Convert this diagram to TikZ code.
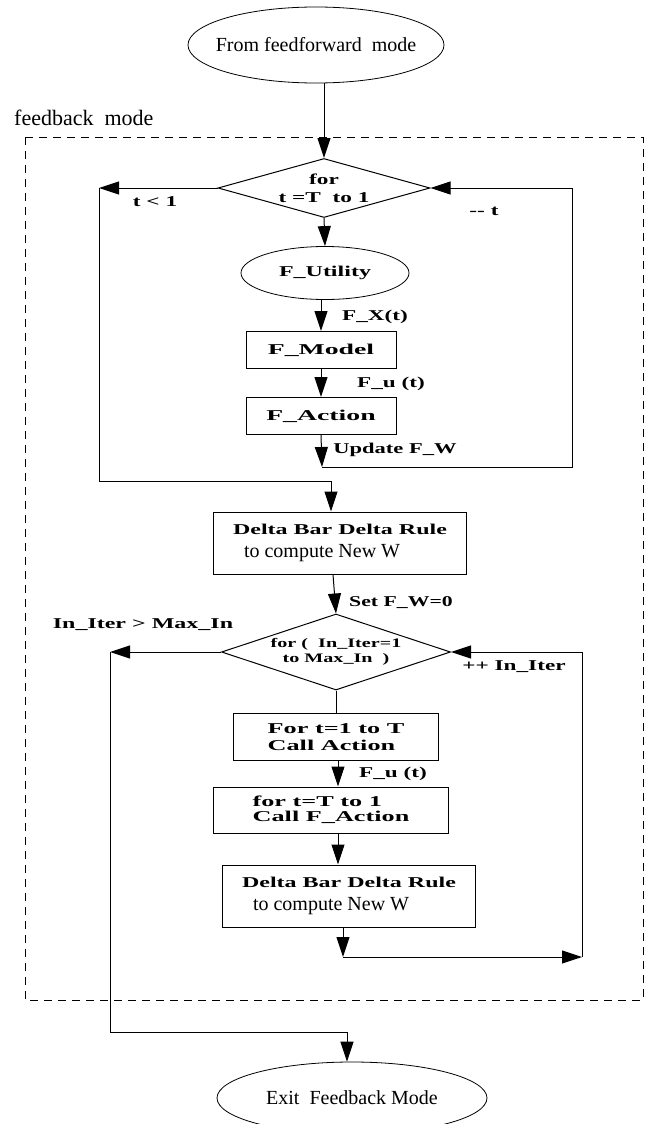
\documentclass[tikz,border=0pt]{standalone}
\usepackage{fontspec}
\usepackage{graphicx}
\setmainfont{Liberation Serif}
\usetikzlibrary{arrows.meta,shapes.geometric}
% wide bold face of the labels
\newcommand{\bw}[2][1.55]{\scalebox{#1}[1]{\bfseries #2}}
\newcommand{\lblsize}{\fontsize{15}{18}\selectfont}
\newcommand{\txtfont}{\fontsize{20}{23}\selectfont}

\begin{document}
\begin{tikzpicture}[x=1pt,y=-1pt,
  flow/.style={line width=1pt,-{Triangle[length=20pt,width=13pt]}},
  wire/.style={line width=1pt},
  term/.style={draw,ellipse,line width=0.8pt,inner sep=0pt},
  decide/.style={draw,diamond,line width=1pt,inner sep=0pt},
  procbox/.style={draw,rectangle,line width=1pt,inner sep=0pt,align=left},
  lbl/.style={font=\lblsize,inner sep=0pt}]
\useasboundingbox (0,0) rectangle (645,1124);
% frame of the feedback mode
\draw[line width=0.9pt,dash pattern=on 8pt off 6pt] (25,137) rectangle (643,1000);
\node[anchor=west,inner sep=0pt,font=\fontsize{22}{26}\selectfont] (fbmode) at (14,118) {feedback\ \ mode};

\node[term,minimum width=256pt,minimum height=76pt,label={[font=\txtfont]center:From feedforward\ \ mode}] (ffwd) at (316,45) {};
\node[decide,minimum width=212pt,minimum height=59pt,label={[font=\lblsize,align=center]center:\bw{for}\\\bw{t =T\ \ to 1}}] (loopt) at (324,188) {};
\node[term,minimum width=168pt,minimum height=53pt,label={[font=\lblsize]center:\bw[1.6]{F\_Utility}}] (util) at (325,273) {};
\node[procbox,minimum width=150pt,minimum height=37pt,font=\lblsize] (model) at (321,350) {\bw[1.85]{F\_Model}};
\node[procbox,minimum width=150pt,minimum height=37pt,font=\lblsize] (act) at (321,416) {\bw[1.85]{F\_Action}};
\node[procbox,minimum width=253pt,minimum height=62pt,font=\txtfont] (delta1) at (340,543) {{\lblsize\bw[1.6]{Delta Bar Delta Rule}}\\\hspace*{11pt}to compute New W};
\node[decide,minimum width=229pt,minimum height=76pt,label={[font=\fontsize{13}{15}\selectfont,align=center]center:\bw{for (\ \ In\_Iter=1}\\\bw{to Max\_In\ \ )}}] (inner) at (336,652) {};
\node[procbox,minimum width=205pt,minimum height=47pt,font=\fontsize{15}{17}\selectfont] (callA) at (336,737) {\bw[1.75]{For t=1 to T}\\\bw[1.75]{Call Action}};
\node[procbox,minimum width=235pt,minimum height=46pt,font=\fontsize{15}{15}\selectfont] (callB) at (331,810) {\bw[1.75]{for t=T to 1}\\\bw[1.75]{Call F\_Action}};
\node[procbox,minimum width=253pt,minimum height=62pt,font=\txtfont] (delta2) at (349,896) {{\lblsize\bw[1.6]{Delta Bar Delta Rule}}\\\hspace*{11pt}to compute New W};
\node[term,minimum width=270pt,minimum height=72pt,label={[font=\txtfont]center:Exit\ \ Feedback Mode}] (exit) at (352,1098) {};

\coordinate (tlt) at (99,188);
\coordinate (updt) at (322,467);
\coordinate (ilt) at (110,652);
\coordinate (dlt) at (343,957);
\coordinate (drt) at (582,957);

% labels
\node[lbl] (tless) at (155,202) {\bw{t < 1}};
\node[lbl] (tdec) at (484,211) {\bw{-{}- t}};
\node[lbl] (fx) at (375,317) {\bw{F\_X(t)}};
\node[lbl] (fu1) at (391,384) {\bw{F\_u (t)}};
\node[lbl] (upd) at (395,450) {\bw[1.5]{Update F\_W}};
\node[lbl] (setw) at (401,603) {\bw[1.45]{Set F\_W=0}};
\node[lbl] (itmax) at (143,625) {\bw[1.6]{In\_Iter > Max\_In}};
\node[lbl] (itinc) at (514,667) {\bw{++ In\_Iter}};
\node[lbl] (fu2) at (393,774) {\bw{F\_u (t)}};

% outer loop
\draw[flow] (ffwd.south -| loopt.north) -- (loopt.north);
\draw[flow] (loopt.west) -- (tlt);
\draw[flow] (tlt) -- ++(0,293) -| ([xshift=-9pt]delta1.north);
\draw[flow] (loopt.south) -- (util.north);
\draw[flow] (util.south -| model.north) -- (model.north);
\draw[flow] (model) -- (act);
\draw[flow] (act.south) -- (updt);
\draw[flow] (updt) -- ++(250,0) |- (loopt.east);
% inner loop
\draw[flow] ([xshift=-7pt]delta1.south) -- (inner.north);
\draw[flow] (inner.west) -- (ilt);
\draw[flow] (ilt) -- ++(0,380) -| ([xshift=-5pt]exit.north);
\draw[wire] (inner.south) -- (callA.north);
\draw[flow] ([xshift=2pt]callA.south) -- ([xshift=7pt]callB.north);
\draw[flow] ([xshift=7pt]callB.south) -- ([xshift=-11pt]delta2.north);
\draw[flow] ([xshift=-6pt]delta2.south) -- (dlt);
\draw[flow] (dlt) -- (drt);
\draw[flow] (drt) |- (inner.east);
\end{tikzpicture}
\end{document}
